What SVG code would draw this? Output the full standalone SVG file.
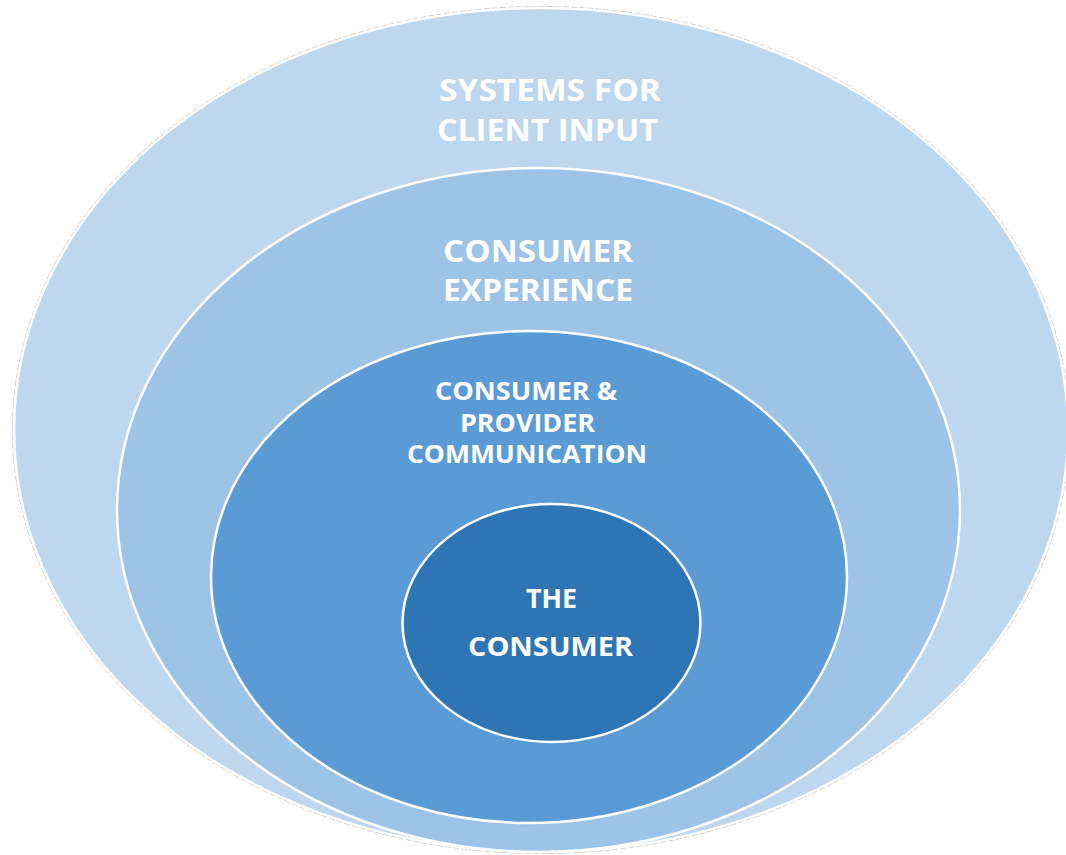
<svg xmlns="http://www.w3.org/2000/svg" width="1066" height="855" viewBox="0 0 1066 855">
  <style>
    .ring { stroke: #ffffff; stroke-width: 2.5; }
    .rim { fill: none; stroke: #c8c8c8; stroke-width: 1; stroke-dasharray: 6 2; }
    .lbl { font-family: "Open Sans", "Liberation Sans", sans-serif; font-weight: bold; fill: #ffffff; text-anchor: middle; }
  </style>
  <rect width="1066" height="855" fill="#ffffff"/>

  <g id="systems-for-client-input">
    <ellipse class="rim" cx="541" cy="430" rx="528.5" ry="423.5"/>
    <ellipse class="ring" cx="541" cy="430" rx="527" ry="422" fill="#BDD7EE"/>
    <text class="lbl" font-size="30" x="550" y="101" textLength="222" lengthAdjust="spacingAndGlyphs">SYSTEMS FOR</text>
    <text class="lbl" font-size="30" x="547.5" y="141" textLength="221" lengthAdjust="spacingAndGlyphs">CLIENT INPUT</text>
  </g>

  <g id="consumer-experience">
    <ellipse class="ring" cx="538.5" cy="510" rx="421.5" ry="342" fill="#9DC3E6"/>
    <text class="lbl" font-size="29.5" x="538" y="262" textLength="190" lengthAdjust="spacingAndGlyphs">CONSUMER</text>
    <text class="lbl" font-size="29.5" x="538" y="301" textLength="190" lengthAdjust="spacingAndGlyphs">EXPERIENCE</text>
  </g>

  <g id="consumer-provider-communication">
    <ellipse class="ring" cx="529" cy="577" rx="318" ry="246" fill="#5B9BD5"/>
    <text class="lbl" font-size="25" x="526" y="400" textLength="182" lengthAdjust="spacingAndGlyphs">CONSUMER &amp;</text>
    <text class="lbl" font-size="25" x="527.5" y="432" textLength="135" lengthAdjust="spacingAndGlyphs">PROVIDER</text>
    <text class="lbl" font-size="25" x="527" y="463" textLength="240" lengthAdjust="spacingAndGlyphs">COMMUNICATION</text>
  </g>

  <g id="the-consumer">
    <ellipse class="ring" cx="551.5" cy="623" rx="149" ry="119" fill="#2E75B6"/>
    <text class="lbl" font-size="27" x="551.5" y="608" textLength="51" lengthAdjust="spacingAndGlyphs">THE</text>
    <text class="lbl" font-size="27" x="550.5" y="656" textLength="165" lengthAdjust="spacingAndGlyphs">CONSUMER</text>
  </g>

  <g id="connectors"/>
</svg>
